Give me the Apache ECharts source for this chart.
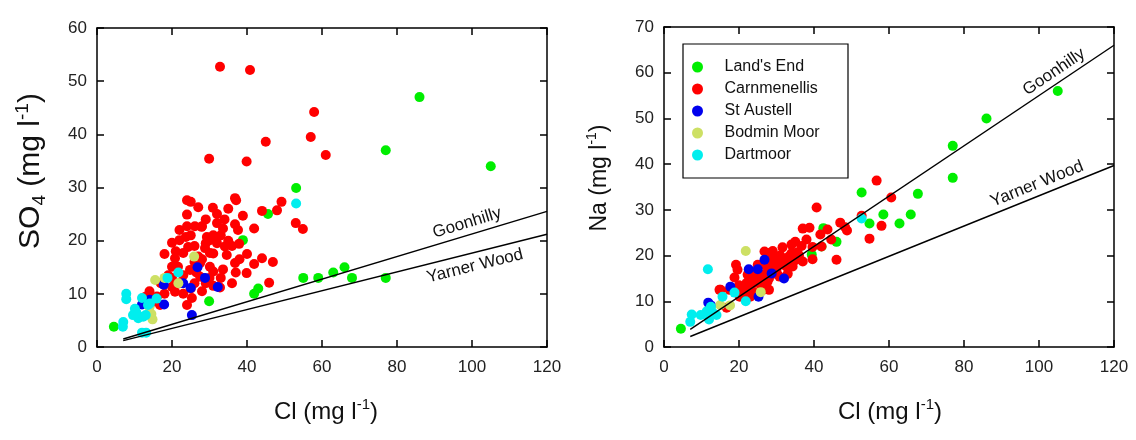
<!DOCTYPE html>
<html>
<head>
<meta charset="utf-8">
<script src="https://cdn.jsdelivr.net/npm/echarts@6/dist/echarts.min.js"></script>
<style>html,body{margin:0;background:#fff}#main{width:1136px;height:440px}</style>
</head>
<body>
<div id="main"></div>
<script>
var siteNames = ["Land's End", 'Carnmenellis', 'St Austell', 'Bodmin Moor', 'Dartmoor'];
var siteColors = ['#00ee00', '#ff0000', '#0000ee', '#cde064', '#00eeee'];

// left panel: [Cl, SO4]
var so4LandsEnd = [[4.5,3.8],[29.9,8.6],[29.5,12.5],[41.9,10],[43,11],[38.9,20.1],[45.6,25],[53.1,29.9],[55,13],[59,13],[63,14],[66,15],[68,13],[77,13],[77,37],[86,47],[105,34]];
var so4Carnmenellis = [[32.8,52.7],[40.8,52.1],[45,38.6],[29.9,35.4],[39.9,34.9],[57.9,44.2],[57,39.5],[61,36.1],[49.2,27.3],[53,23.3],[54.9,22.2],[48,25.7],[44,25.6],[37.1,27.6],[36.8,28],[38.9,24.7],[41.9,22.3],[37.6,22],[36.8,23.1],[46.9,16],[44,16.7],[41.9,15.6],[39.9,13.9],[45.9,12.1],[36.8,15.8],[37.9,19.4],[32.8,11.2],
  [24,27.6],[25,27.3],[27,26.3],[30.9,26.2],[27.9,22.6],[24,24.9],[24,22.7],[26.1,22.7],[28,22.7],[32,23.3],[33.6,22.3],[23.7,20.7],[20,19.6],[22,20.1],[24.3,18.8],[23,17.7],[20.8,16.7],[21.6,15.1],[20,15.1],[20,13],[24.8,14.5],[27.5,13.2],[20,11.3],[20.8,10.4],[25.3,9.2],[24,7.9],[12.8,9.4],[16.8,7.9],[30.1,20.1],[30.1,17.7],[27.5,15.8],[29.3,20.7],[32,19.5],[34.1,18.9],[28.8,18.6],[31,17.6],[34.6,17.3],[33.6,14.6],[30.1,15.1],[31,14.2],
  [26,19],[27,17],[28,16.5],[29,19.5],[31,21],[32,20.5],[33,21],[35,20],[36,19],[30,13],[29,12],[26,12],[25,11],[22,12],[23,13.5],[26,16],[25,21],[22,22],[21,18],[18,17.5],[19,13.5],[17,12],[23,10],[28,10.5],[31,11.5],[33,13],[36,12],[34,24],[35,26],[32,25],[29,24],[40,17.5],[38,16.5],[37,14],[26.5,14],[18,10],[15,8.5],[16,9.5],[14,10.5]];
var so4StAustell = [[26.8,15],[28.8,13],[32.2,11.3],[25,11.1],[17.8,11.7],[17.9,8],[12,8],[14.1,8.9],[25.3,6],[23,12]];
var so4BodminMoor = [[25.9,17],[15.5,12.6],[18,13],[21.7,12],[14.5,6.2],[14.8,5.2],[14,7.5]];
var so4Dartmoor = [[7.8,10],[7.8,9],[12,9.2],[14.1,8.2],[15.9,9.1],[13.6,7.9],[18.8,13],[21.7,14],[10.1,7.2],[9.6,6],[11,5.4],[12.3,5.7],[7,4.7],[6.9,3.8],[12,2.7],[13.1,2.7],[53.1,27],[10.5,6.5],[13,6]];

// right panel: [Cl, Na]
var naLandsEnd = [[4.5,4],[29.6,19.7],[39.4,20.2],[42,22],[46,23],[42.5,26],[52.7,33.8],[54.8,27],[58.5,29],[62.8,27],[65.8,29],[67.7,33.5],[77,37],[77,44],[86,50],[105,56]];
var naCarnmenellis = [[56.7,36.4],[60.6,32.7],[58,26.5],[54.8,23.7],[52.7,28.7],[40.7,30.5],[37,25.9],[38.8,26.1],[43.6,25.7],[47,27.2],[48.3,26.2],[48.8,25.5],[44.6,23.5],[41.7,24.6],[46,19.1],[39.6,19.2],[39.6,21.9],[36.7,22.1],[34,22.4],[31.6,21.8],[35.6,20.7],[37,18.7],[33.3,19.8],[26.8,20.9],[30,19.8],[29.5,18.5],[32.6,17.6],[34.3,17.6],[30,16.5],[27.6,14.3],[30.8,15.4],[26.7,12.6],[19.6,16.9],[22.3,15.8],[15.1,12.5],[17.5,12.5],[16.7,8.6],[20.2,11],[18.8,15.2],[24.2,14.1],
  [21,13],[22,14],[23,13],[24,15],[25,14],[26,15],[27,16],[28,17],[29,16],[31,18],[32,19],[33,18],[35,19],[36,20],[24,12],[22,12],[20,13.5],[23,16.5],[25,16],[27,18],[28,15],[30,17.5],[26,13.5],[28,12.5],[21,11.5],[19,12],[23,11],[33,16],[34,20.5],[31,20],[29,21],[38,23.5],[35,23],[42,22],[28,19],[25,18],[19.2,18],[28.4,20.6],[14.8,12.5]];
var naStAustell = [[26.8,19.1],[22.6,17],[25,17],[28.7,16.1],[32,15],[17.7,13.2],[25.2,11],[11.8,9.7],[12.5,9.1]];
var naBodminMoor = [[21.8,21],[25.8,12],[15,9.2],[17.6,9.1],[12.5,8.3]];
var naDartmoor = [[11.7,17],[15.6,11],[18.8,11.9],[21.8,10],[7.4,7.1],[7,5.5],[9.8,7],[11.4,7.8],[12.5,8.8],[12,6],[14,7],[13,7.5],[52.7,28.1]];

// rainfall reference lines
var so4Goonhilly = [[7,1.5],[120,25.5]];
var so4YarnerWood = [[7,1.2],[120,21.2]];
var naGoonhilly = [[7,3.85],[120,66]];
var naYarnerWood = [[7,2.3],[120,39.7]];

var font = "'Liberation Sans', Arial, sans-serif";

function axis(gridIndex, position, max, interval, labels){
    return {
        type:'value', gridIndex:gridIndex, position:position, min:0, max:max, interval:interval,
        axisLine:{show:true, onZero:false, lineStyle:{color:'#000', width:1.5}},
        axisTick:{show:true, inside:true, length:7, lineStyle:{color:'#000', width:1.5}},
        axisLabel:{show:labels, color:'#222', fontSize:17, fontFamily:font, margin:position == 'bottom' ? 12 : 10},
        splitLine:{show:false}
    };
}

var series = [];
function refLine(data, xi, yi){
    series.push({type:'line', xAxisIndex:xi, yAxisIndex:yi, data:data, symbol:'none', silent:true,
        lineStyle:{color:'#000', width:1.4}});
}
refLine(so4Goonhilly, 0, 0);
refLine(so4YarnerWood, 0, 0);
refLine(naGoonhilly, 2, 2);
refLine(naYarnerWood, 2, 2);

var so4Sets = [so4LandsEnd, so4Carnmenellis, so4StAustell, so4BodminMoor, so4Dartmoor];
var naSets = [naLandsEnd, naCarnmenellis, naStAustell, naBodminMoor, naDartmoor];
for(var i = 0; i < siteNames.length; i++){
    series.push({name:siteNames[i], type:'scatter', xAxisIndex:0, yAxisIndex:0, data:so4Sets[i],
        symbolSize:10, itemStyle:{color:siteColors[i], opacity:1}});
    series.push({name:siteNames[i], type:'scatter', xAxisIndex:2, yAxisIndex:2, data:naSets[i],
        symbolSize:10, itemStyle:{color:siteColors[i], opacity:1}});
}

function title(text, x, y, size, rot){
    return {
        type:'text', x:x, y:y, rotation:rot, silent:true,
        style:{
            text:text, align:'center', verticalAlign:'middle',
            rich:{
                n:{fill:'#111', fontSize:size, fontFamily:font, lineHeight:size + 6},
                s:{fill:'#111', fontSize:Math.round(size * 0.62), fontFamily:font, verticalAlign:'top', lineHeight:size + 6},
                b:{fill:'#111', fontSize:Math.round(size * 0.62), fontFamily:font, verticalAlign:'bottom', lineHeight:size + 6}
            }
        }
    };
}
function lineLabel(text, x, y, deg){
    return {type:'text', x:x, y:y, rotation:deg * Math.PI / 180, silent:true,
        style:{text:text, align:'center', verticalAlign:'middle', fill:'#111', fontSize:17, fontFamily:font}};
}

var option = {
    animation:false,
    backgroundColor:'#fff',
    grid:[
        {left:97, top:28, width:450, height:319},
        {left:664, top:27, width:450, height:320}
    ],
    xAxis:[axis(0,'bottom',120,20,true), axis(0,'top',120,20,false), axis(1,'bottom',120,20,true), axis(1,'top',120,20,false)],
    yAxis:[axis(0,'left',60,10,true), axis(0,'right',60,10,false), axis(1,'left',70,10,true), axis(1,'right',70,10,false)],
    legend:{
        orient:'vertical', left:692, top:59, padding:0,
        itemWidth:44, itemHeight:11, itemGap:6, icon:'circle',
        textStyle:{color:'#111', fontSize:16, fontFamily:font, lineHeight:11},
        data:siteNames
    },
    graphic:[
        {type:'rect', shape:{x:683, y:44, width:165, height:134}, style:{fill:'none', stroke:'#000', lineWidth:1.2}, silent:true},
        title('{n|SO}{b|4}{n| (mg l}{s|-1}{n|)}', 31, 171, 30, Math.PI / 2),
        title('{n|Na (mg l}{s|-1}{n|)}', 600, 178, 23, Math.PI / 2),
        title('{n|Cl (mg l}{s|-1}{n|)}', 326, 412, 24, 0),
        title('{n|Cl (mg l}{s|-1}{n|)}', 890, 412, 24, 0),
        lineLabel('Goonhilly', 467, 223, 17),
        lineLabel('Yarner Wood', 475, 266, 14),
        lineLabel('Goonhilly', 1054, 72, 34),
        lineLabel('Yarner Wood', 1037, 184, 22)
    ],
    series:series
};
echarts.init(document.getElementById('main')).setOption(option);
</script>
</body>
</html>
